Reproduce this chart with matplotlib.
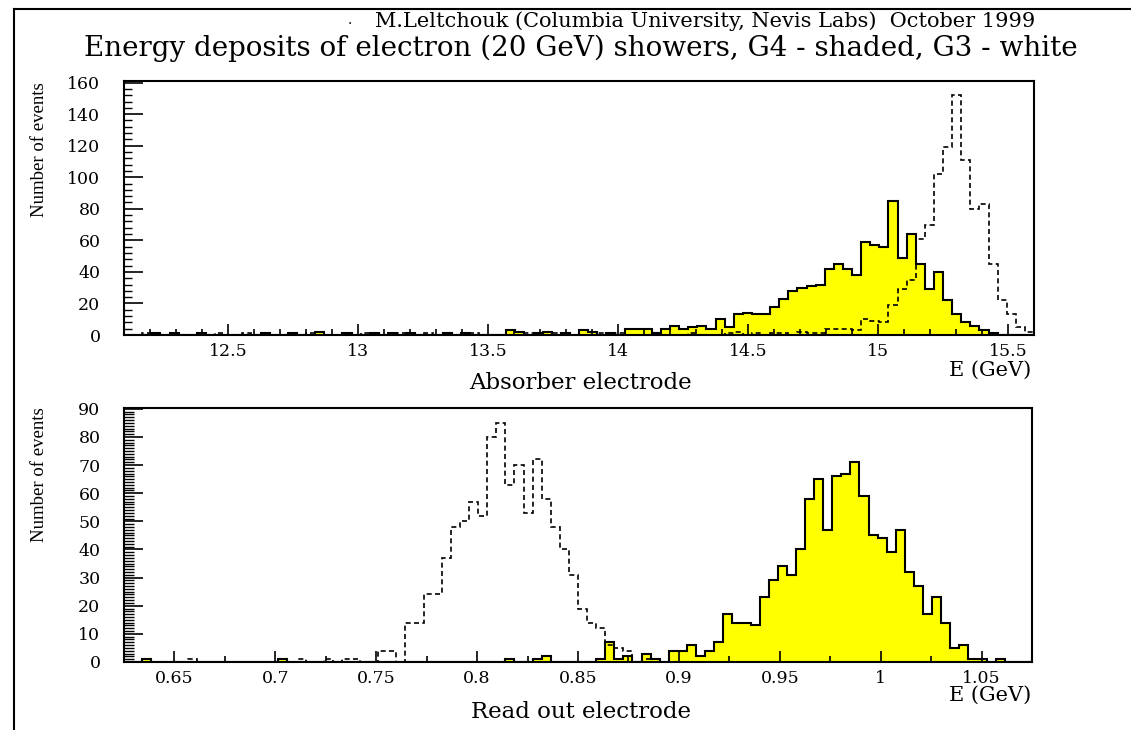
import numpy as np
import matplotlib
matplotlib.use('Agg')
from matplotlib import pyplot as plt
from matplotlib.lines import Line2D
from matplotlib.ticker import MultipleLocator, FuncFormatter

# Absorber electrode: 100 bins, 12.1 .. 15.6 GeV
abs_range = (12.1, 15.6)
abs_g4 = [0, 0, 0, 1, 0, 1, 0, 0, 1, 0,
          0, 0, 0, 0, 0, 1, 0, 0, 1, 0,
          0, 2, 0, 0, 1, 0, 0, 1, 0, 1,
          0, 1, 0, 0, 0, 1, 0, 1, 0, 0,
          0, 0, 3, 2, 0, 1, 2, 0, 1, 0,
          3, 2, 0, 1, 0, 4, 4, 4, 1, 4,
          6, 4, 5, 6, 4, 10, 5, 13, 14, 13,
          13, 18, 23, 28, 30, 31, 32, 42, 45, 42,
          38, 59, 57, 56, 85, 49, 64, 45, 29, 40,
          22, 13, 8, 6, 3, 1, 0, 0, 0, 0]
abs_g3 = [0, 0, 1, 0, 0, 0, 0, 0, 0, 0,
          1, 0, 0, 1, 0, 0, 0, 0, 0, 0,
          1, 0, 0, 0, 0, 0, 1, 0, 0, 0,
          1, 0, 0, 1, 0, 0, 0, 0, 1, 0,
          0, 0, 0, 0, 1, 0, 0, 1, 0, 0,
          0, 0, 1, 0, 1, 0, 0, 0, 0, 0,
          0, 0, 1, 0, 0, 0, 1, 2, 0, 1,
          0, 1, 1, 0, 2, 1, 1, 4, 4, 4,
          3, 10, 9, 8, 19, 29, 35, 61, 70, 102,
          119, 152, 111, 80, 83, 45, 22, 13, 5, 2]

# Read out electrode: 100 bins, 0.625 .. 1.075 GeV
ro_range = (0.625, 1.075)
ro_g4 = [0, 0, 1, 0, 0, 0, 0, 0, 0, 0,
         0, 0, 0, 0, 0, 0, 0, 1, 0, 0,
         0, 0, 0, 0, 0, 0, 0, 0, 0, 0,
         0, 0, 0, 0, 0, 0, 0, 0, 0, 0,
         0, 0, 1, 0, 0, 1, 2, 0, 0, 0,
         0, 0, 1, 7, 1, 2, 0, 3, 1, 0,
         4, 4, 6, 2, 4, 7, 17, 14, 14, 13,
         23, 29, 34, 31, 40, 58, 65, 47, 66, 67,
         71, 59, 45, 44, 39, 47, 32, 27, 17, 23,
         14, 5, 6, 1, 1, 0, 1, 0, 0, 0]
ro_g3 = [0, 0, 0, 0, 0, 0, 0, 1, 0, 0,
         0, 0, 0, 0, 0, 0, 0, 0, 0, 1,
         0, 0, 1, 0, 1, 1, 0, 0, 4, 4,
         0, 14, 14, 24, 24, 37, 48, 50, 57, 52,
         80, 85, 63, 70, 53, 72, 58, 48, 40, 31,
         19, 14, 12, 6, 5, 4, 0, 1, 0, 0,
         0, 0, 0, 0, 0, 0, 0, 0, 0, 0,
         0, 0, 0, 0, 0, 0, 0, 0, 0, 0,
         0, 0, 0, 0, 0, 0, 0, 0, 0, 0,
         0, 0, 0, 0, 0, 0, 0, 0, 0, 0]

SERIF = 'DejaVu Serif'
fig = plt.figure(figsize=(11.31, 7.30), dpi=100)
W, H = 1131.0, 730.0


def fx(px):
    return px / W


def fy(py):
    return 1 - py / H


def panel(rect, rng, g4, g3, ymax, ymaj, ymin, xmaj, xmin, ylen):
    ax = fig.add_axes(rect)
    edges = np.linspace(rng[0], rng[1], len(g4) + 1)
    ax.stairs(g4, edges, fill=True, color='#ffff00', lw=0)
    ax.stairs(g4, edges, color='black', lw=1.5)
    ax.stairs(g3, edges, color='black', lw=1.2, linestyle=(0, (3, 2)))
    ax.set_xlim(rng)
    ax.set_ylim(0, ymax)
    ax.xaxis.set_major_locator(MultipleLocator(xmaj))
    ax.xaxis.set_minor_locator(MultipleLocator(xmin))
    ax.yaxis.set_major_locator(MultipleLocator(ymaj))
    ax.yaxis.set_minor_locator(MultipleLocator(ymin))
    fmt = FuncFormatter(lambda v, p: '%g' % round(v, 4))
    ax.xaxis.set_major_formatter(fmt)
    ax.yaxis.set_major_formatter(fmt)
    ax.tick_params(axis='x', which='major', direction='in', length=8, width=1.2,
                   pad=6, labelsize=12.5)
    ax.tick_params(axis='x', which='minor', direction='in', length=4, width=1.2)
    ax.tick_params(axis='y', which='major', direction='in', length=ylen[0], width=1.2,
                   pad=17, labelsize=12.5)
    ax.tick_params(axis='y', which='minor', direction='in', length=ylen[1], width=1.0)
    for lab in ax.get_xticklabels() + ax.get_yticklabels():
        lab.set_family(SERIF)
    for s in ax.spines.values():
        s.set_linewidth(1.5)
    return ax


ax1 = panel([fx(124), fy(335), fx(1034) - fx(124), fy(81) - fy(335)],
            abs_range, abs_g4, abs_g3, 161, 20, 4, 0.5, 0.1, (14, 6))
ax2 = panel([fx(124), fy(662), fx(1032) - fx(124), fy(408) - fy(662)],
            ro_range, ro_g4, ro_g3, 90.3, 10, 1, 0.05, 0.025, (14, 7))

# page frame
fig.add_artist(Line2D([fx(14), fx(14)], [fy(9), 0], color='black', lw=1.5))
fig.add_artist(Line2D([fx(14), 1], [fy(9), fy(9)], color='black', lw=1.5))

fig.text(fx(350), fy(20), '.', fontsize=10, family=SERIF, ha='center', va='center')
fig.text(fx(705), fy(21), 'M.Leltchouk (Columbia University, Nevis Labs)  October 1999',
         fontsize=15, family=SERIF, ha='center', va='center')
fig.text(fx(581), fy(48), 'Energy deposits of electron (20 GeV) showers, G4 - shaded, G3 - white',
         fontsize=20, family=SERIF, ha='center', va='center')

fig.text(fx(40), fy(150), 'Number of events', fontsize=13.5, family='Liberation Serif',
         rotation=90, ha='center', va='center')
fig.text(fx(40), fy(475), 'Number of events', fontsize=13.5, family='Liberation Serif',
         rotation=90, ha='center', va='center')
fig.text(fx(580), fy(383), 'Absorber electrode', fontsize=16.5, family=SERIF,
         ha='center', va='center')
fig.text(fx(581), fy(712), 'Read out electrode', fontsize=16.5, family=SERIF,
         ha='center', va='center')
fig.text(fx(990), fy(370), 'E (GeV)', fontsize=15, family=SERIF, ha='center', va='center')
fig.text(fx(990), fy(695), 'E (GeV)', fontsize=15, family=SERIF, ha='center', va='center')

fig.savefig('out.png', dpi=100)
